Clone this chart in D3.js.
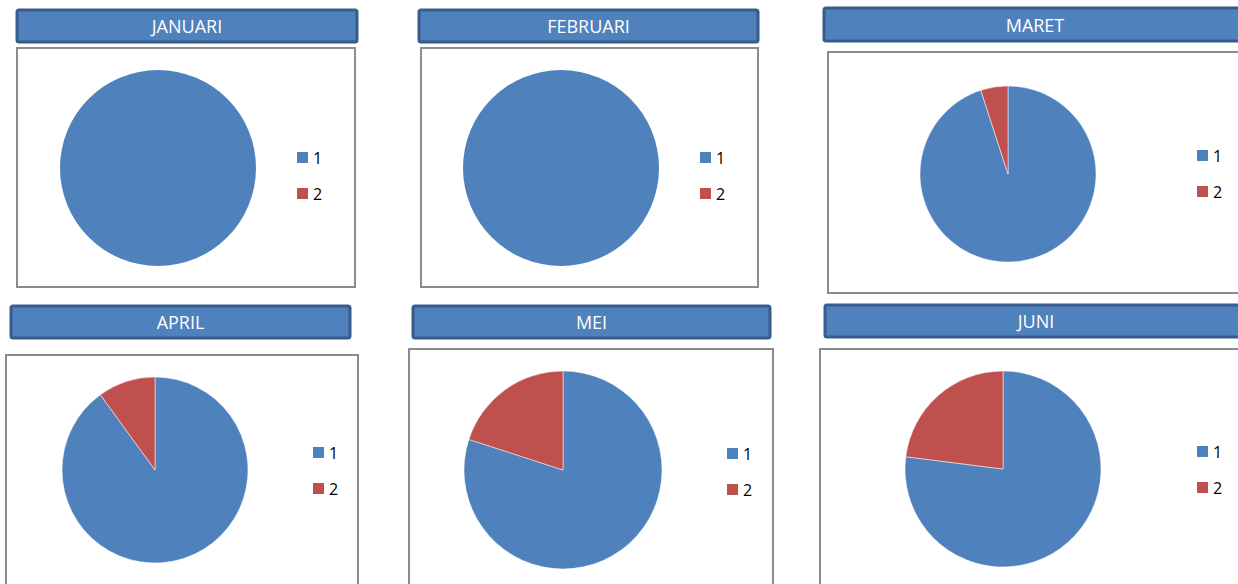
<!DOCTYPE html>
<html>
<head>
<meta charset="utf-8">
<script src="https://cdn.jsdelivr.net/npm/d3@7"></script>
<style>
  body { margin: 0; background: #fff; }
  svg { display: block; }
  .title-text { font-family: "Open Sans", sans-serif; font-size: 18px; fill: #fff; text-anchor: middle; }
  .legend-text { font-family: "Open Sans", sans-serif; font-size: 16px; fill: #000; }
</style>
</head>
<body>
<svg id="chart" width="1238" height="584"></svg>
<script>
"use strict";

// data
const MONTHS = ["JANUARI", "FEBRUARI", "MARET", "APRIL", "MEI", "JUNI"];
const SERIES_NAMES = ["1", "2"];
const SERIES_1 = [100, 100, 95, 90, 80, 77];
const SERIES_2 = [0, 0, 5, 10, 20, 23];

const COLORS = ["#4F81BD", "#C0504D"];

// panel geometry (title bar, plot box, pie, legend)
const PANELS = [
    { tx: 17, ty: 10, tw: 340, th: 32, bx: 17, by: 48, bw: 338, bh: 239, cx: 158, cy: 168, r: 98, lx: 297, ly: 152 },
    { tx: 419, ty: 10, tw: 339, th: 32, bx: 421, by: 48, bw: 337, bh: 239, cx: 561, cy: 168, r: 98, lx: 700, ly: 152 },
    { tx: 824, ty: 8, tw: 430, th: 33, bx: 828, by: 52, bw: 420, bh: 241, cx: 1008, cy: 174, r: 88, lx: 1197, ly: 150 },
    { tx: 11, ty: 306, tw: 339, th: 32, bx: 6, by: 355, bw: 352, bh: 240, cx: 155, cy: 470, r: 93, lx: 313, ly: 447 },
    { tx: 413, ty: 306, tw: 357, th: 32, bx: 409, by: 349, bw: 364, bh: 250, cx: 563, cy: 470, r: 99, lx: 727, ly: 448 },
    { tx: 825, ty: 305, tw: 430, th: 32, bx: 820, by: 349, bw: 430, bh: 250, cx: 1003, cy: 469, r: 98, lx: 1197, ly: 446 }
];

const svg = d3.select("#chart");
const pie = d3.pie().sort(null).value(d => d);
const color = d3.scaleOrdinal().domain(SERIES_NAMES).range(COLORS);

MONTHS.forEach(function(month, i) {
    let p = PANELS[i];
    let g = svg.append("g");

    // plot box
    g.append("rect")
        .attr("x", p.bx).attr("y", p.by)
        .attr("width", p.bw).attr("height", p.bh)
        .attr("fill", "#fff")
        .attr("stroke", "#8c8c8c")
        .attr("stroke-width", 2);

    // title bar
    g.append("rect")
        .attr("x", p.tx).attr("y", p.ty)
        .attr("width", p.tw).attr("height", p.th)
        .attr("rx", 2)
        .attr("fill", "#4F81BD")
        .attr("stroke", "#385D8A")
        .attr("stroke-width", 3);
    g.append("text")
        .attr("class", "title-text")
        .attr("x", p.tx + Math.min(p.tw, 1238 - p.tx + 40) / 2 - (i == 2 || i == 5 ? 4 : 0))
        .attr("y", p.ty + p.th / 2 + 7)
        .text(month);

    // pie
    let arc = d3.arc().innerRadius(0).outerRadius(p.r);
    let values = [SERIES_1[i], SERIES_2[i]];
    g.append("g")
        .attr("transform", `translate(${p.cx}, ${p.cy})`)
        .selectAll("path")
        .data(pie(values))
        .join("path")
        .attr("d", arc)
        .attr("fill", (d, k) => color(SERIES_NAMES[k]))
        .attr("stroke", "#fff")
        .attr("stroke-width", d => (d.value > 0 && d.value < 100 ? 0.5 : 0));

    // legend
    let legend = g.append("g")
        .attr("transform", `translate(${p.lx}, ${p.ly})`);
    SERIES_NAMES.forEach(function(name, k) {
        legend.append("rect")
            .attr("x", 0).attr("y", k * 36)
            .attr("width", 11).attr("height", 11)
            .attr("fill", color(name));
        legend.append("text")
            .attr("class", "legend-text")
            .attr("x", 16).attr("y", k * 36 + 12)
            .text(name);
    });
});
</script>
</body>
</html>
